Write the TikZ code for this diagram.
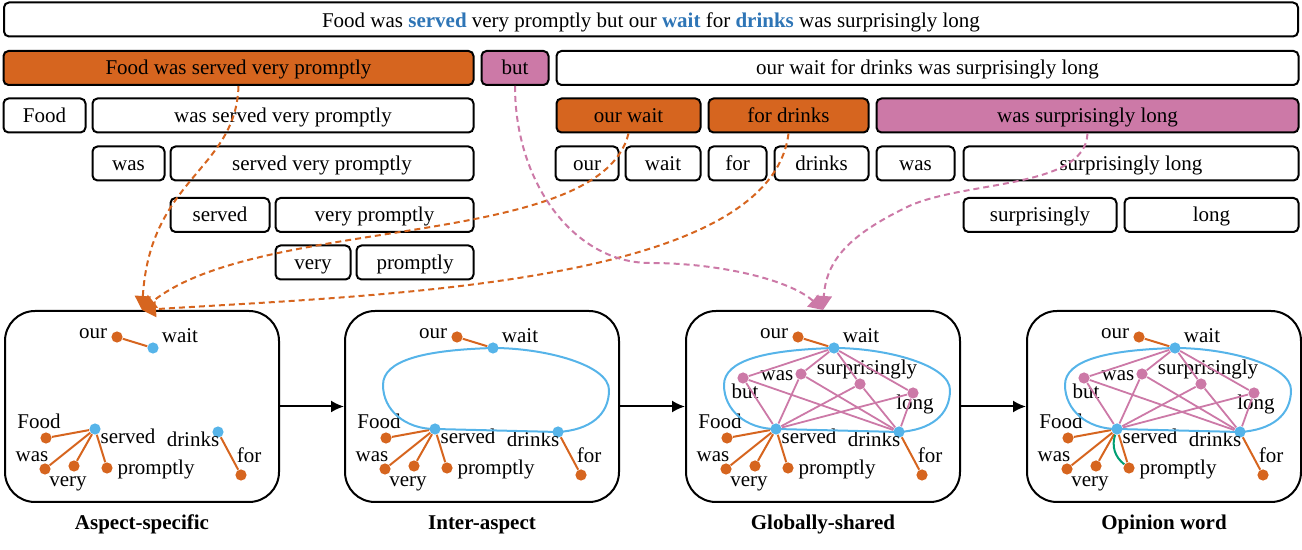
\documentclass[tikz,border=0pt]{standalone}
\usepackage{fontspec}
\setmainfont{Liberation Serif}
\usetikzlibrary{arrows.meta}
\usetikzlibrary{calc}

\definecolor{aspor}{RGB}{214,101,31}
\definecolor{oppink}{RGB}{204,121,167}
\definecolor{dotblue}{RGB}{86,180,233}
\definecolor{txtblue}{RGB}{46,117,182}
\definecolor{opgreen}{RGB}{0,158,115}

\begin{document}
\begin{tikzpicture}[x=0.5pt,y=0.5pt,font=\fontsize{10.5}{12.6}\selectfont,
  seg/.style={draw,line width=1pt,rounded corners=2.5pt,minimum height=17pt,inner sep=0pt,text height=8.5pt,text depth=1.5pt},
  panel/.style={draw,line width=1pt,rounded corners=15pt,minimum width=137pt,minimum height=95.5pt},
  tok/.style={circle,fill=#1,inner sep=0pt,minimum size=5.6pt},
  word/.style={inner sep=0pt,text height=7pt,text depth=2pt},
  tree/.style={aspor,line width=1pt},
  ring/.style={dotblue,line width=1pt},
  opedge/.style={oppink,line width=0.9pt},
  guide/.style={#1,line width=1pt,dash pattern=on 3pt off 2pt,-{Triangle[length=7pt,width=8pt]}},
  flow/.style={line width=1pt,-{Latex[length=6.5pt,width=6pt]}},
  capt/.style={font=\fontsize{10.5}{12.6}\selectfont\bfseries,anchor=base}]
\useasboundingbox (0,0) rectangle (1302,-550);

% sentence and its constituent segments
\node[seg,minimum width=647pt,text height=9.5pt,text depth=1pt] (sent) at (651,-19.5) {Food was \textcolor{txtblue}{\textbf{served}} very promptly but our \textcolor{txtblue}{\textbf{wait}} for \textcolor{txtblue}{\textbf{drinks}} was surprisingly long};
\node[seg,fill=aspor,minimum width=235pt] (r2a) at (238.5,-68) {Food was served very promptly};
\node[seg,fill=oppink,minimum width=33.5pt] (r2b) at (515,-68) {but};
\node[seg,minimum width=371pt] (r2c) at (927.5,-68) {our wait for drinks was surprisingly long};
\node[seg,minimum width=41pt] (r3a) at (44.5,-115.5) {Food};
\node[seg,minimum width=190.5pt] (r3b) at (283,-115.5) {was served very promptly};
\node[seg,fill=aspor,minimum width=72pt] (r3c) at (628.5,-115.5) {our wait};
\node[seg,fill=aspor,minimum width=80pt] (r3d) at (788.5,-115.5) {for drinks};
\node[seg,fill=oppink,minimum width=211pt] (r3e) at (1087.5,-115.5) {was surprisingly long};
\node[seg,minimum width=36pt] (r4a) at (128.5,-163.5) {was};
\node[seg,minimum width=151.5pt] (r4b) at (322,-163.5) {served very promptly};
\node[seg,minimum width=31.5pt] (r4c) at (587,-163.5) {our};
\node[seg,minimum width=37.5pt] (r4d) at (663,-163.5) {wait};
\node[seg,minimum width=29pt] (r4e) at (737.5,-163.5) {for};
\node[seg,minimum width=47pt] (r4f) at (821.5,-163.5) {drinks};
\node[seg,minimum width=39pt] (r4g) at (915.5,-163.5) {was};
\node[seg,minimum width=167.5pt] (r4h) at (1131,-163.5) {surprisingly long};
\node[seg,minimum width=49.5pt] (r5a) at (220,-215) {served};
\node[seg,minimum width=99pt] (r5b) at (374.5,-215) {very promptly};
\node[seg,minimum width=76.5pt] (r5c) at (1040,-215) {surprisingly};
\node[seg,minimum width=87pt] (r5d) at (1211.5,-215) {long};
\node[seg,minimum width=37.5pt] (r6a) at (313,-262.5) {very};
\node[seg,minimum width=58.5pt] (r6b) at (415,-262.5) {promptly};

% graph panels with the dependency trees
\foreach \i/\x/\t in {1/5/Aspect-specific,2/345/Inter-aspect,3/686/Globally-shared,4/1027/Opinion word} {
  \node[panel] (p\i) at (\x+137,-406.5) {};
  \node[capt] (c\i) at (\x+137,-530) {\t};
  \node[tok=aspor] (our\i) at (\x+112,-337) {};
  \node[tok=dotblue] (wait\i) at (\x+148,-348) {};
  \node[tok=aspor] (food\i) at (\x+41,-438) {};
  \node[tok=dotblue] (served\i) at (\x+90,-429) {};
  \node[tok=aspor] (wasa\i) at (\x+40,-469) {};
  \node[tok=aspor] (very\i) at (\x+69,-466) {};
  \node[tok=aspor] (prompt\i) at (\x+102,-468) {};
  \node[tok=dotblue] (drinks\i) at (\x+213,-432) {};
  \node[tok=aspor] (for\i) at (\x+236,-475) {};
  \node[word] (lour\i) at (\x+88,-334) {our};
  \node[word] (lwait\i) at (\x+175,-338) {wait};
  \node[word] (lfood\i) at (\x+34,-424) {Food};
  \node[word] (lserved\i) at (\x+123,-439) {served};
  \node[word] (lwasa\i) at (\x+27,-457) {was};
  \node[word] (lvery\i) at (\x+63,-482) {very};
  \node[word] (lprompt\i) at (\x+151,-470) {promptly};
  \node[word] (ldrinks\i) at (\x+188,-442) {drinks};
  \node[word] (lfor\i) at (\x+244,-458) {for};
  \draw[tree] (our\i) -- (wait\i);
  \draw[tree] (food\i) -- (served\i);
  \draw[tree] (wasa\i) -- (served\i);
  \draw[tree] (very\i) -- (served\i);
  \draw[tree] (prompt\i) -- (served\i);
  \draw[tree] (drinks\i) -- (for\i);
}
\foreach \i/\j in {1/2,2/3,3/4}
  \draw[flow] (p\i) -- (p\j);

% aspects linked together
\foreach \i/\x in {2/345,3/686,4/1027}
  \draw[ring] (served\i.center) .. controls (\x+60,-429) and (\x+38,-410) .. (\x+38,-385)
    .. controls (\x+38,-360) and (\x+80,-350) .. (wait\i.center)
    .. controls (\x+200,-348) and (\x+264,-365) .. (\x+264,-390)
    .. controls (\x+264,-415) and (\x+245,-430) .. (drinks\i.center) -- cycle;

% shared context words
\foreach \i/\x in {3/686,4/1027} {
  \node[tok=oppink] (but\i) at (\x+57,-378) {};
  \node[tok=oppink] (wasb\i) at (\x+115,-374) {};
  \node[tok=oppink] (surp\i) at (\x+174,-384) {};
  \node[tok=oppink] (long\i) at (\x+227,-393) {};
  \node[word] (lbut\i) at (\x+59,-394) {but};
  \node[word] (lwasb\i) at (\x+91,-376) {was};
  \node[word] (lsurp\i) at (\x+181,-370) {surprisingly};
  \node[word] (llong\i) at (\x+229,-405) {long};
  \foreach \a in {wait,served,drinks}
    \foreach \b in {but,wasb,surp,long}
      \draw[opedge] (\a\i) -- (\b\i);
}
\draw[opgreen,line width=1pt] (served4) to[bend right=35] (prompt4);

% where the segments go
\draw[guide=aspor] (r2a.south) .. controls (236,-170) and (150,-178) .. (p1.north);
\draw[guide=aspor] (r3c.south) .. controls (600,-250) and (260,-215) .. (p1.north);
\draw[guide=aspor] (r3d.south) .. controls (770,-285) and (380,-295) .. (p1.north);
\draw[guide=oppink] (r2b.south) .. controls (515,-184) and (575,-263) .. (650,-263) .. controls (720,-263) and (790,-280) .. (p3.north);
\draw[guide=oppink] (r3e.south) .. controls (1085,-190) and (960,-180) .. (905,-208) .. controls (850,-235) and (826,-260) .. (p3.north);
\end{tikzpicture}
\end{document}
